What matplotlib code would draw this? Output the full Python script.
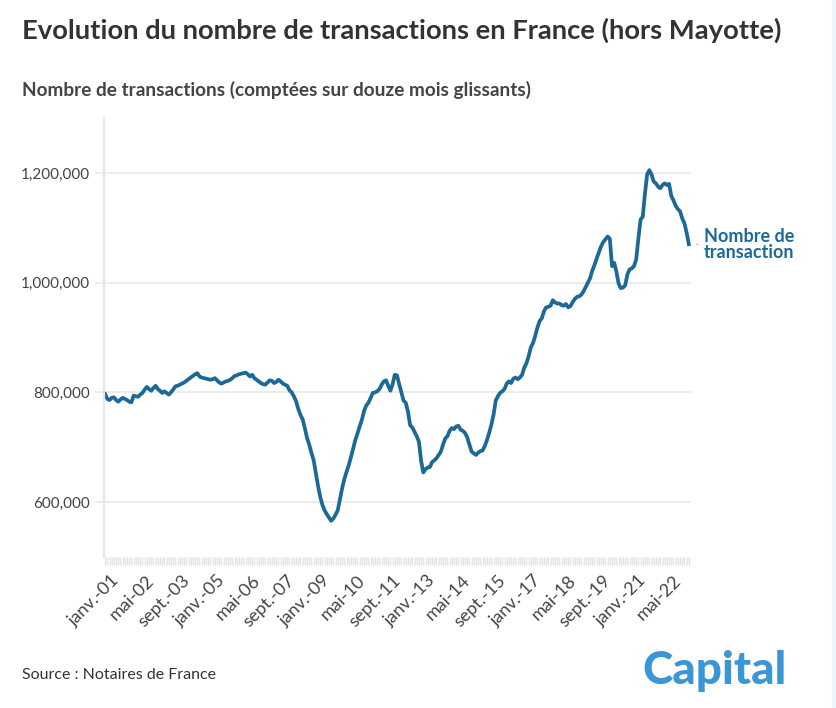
import matplotlib
matplotlib.use("Agg")
import matplotlib.pyplot as plt
from matplotlib.patches import Rectangle
from matplotlib.ticker import FuncFormatter
from matplotlib.transforms import ScaledTranslation

# 12-month rolling number of transactions (thousands), monthly, Jan 2001 -> Mar 2023
y2001 = [797, 788, 786, 790, 791, 786, 783, 787, 790, 788, 786, 783]
y2002 = [782, 794, 793, 792, 796, 799, 805, 810, 806, 803, 808, 812]
y2003 = [806, 803, 799, 802, 799, 796, 800, 805, 811, 812, 814, 816]
y2004 = [818, 821, 824, 827, 830, 833, 835, 829, 827, 826, 825, 824]
y2005 = [823, 824, 826, 822, 818, 816, 818, 820, 821, 823, 826, 830]
y2006 = [831, 833, 834, 835, 836, 833, 829, 832, 826, 823, 820, 817]
y2007 = [815, 814, 818, 822, 821, 817, 819, 823, 820, 816, 814, 812]
y2008 = [804, 800, 793, 784, 770, 759, 751, 735, 717, 705, 690, 677]
y2009 = [653, 630, 610, 595, 585, 578, 572, 566, 570, 577, 585, 605]
y2010 = [625, 642, 655, 667, 682, 697, 713, 725, 738, 750, 766, 776]
y2011 = [781, 790, 799, 800, 802, 806, 814, 820, 822, 812, 803, 815]
y2012 = [832, 831, 815, 800, 785, 781, 765, 740, 736, 728, 720, 710]
y2013 = [675, 654, 660, 663, 664, 673, 676, 680, 686, 692, 705, 716]
y2014 = [720, 730, 735, 733, 738, 739, 732, 730, 726, 718, 705, 692]
y2015 = [689, 686, 690, 693, 694, 702, 713, 726, 741, 759, 785, 793]
y2016 = [799, 802, 806, 816, 820, 817, 825, 827, 824, 827, 832, 845]
y2017 = [853, 866, 882, 890, 903, 918, 930, 935, 948, 955, 956, 958]
y2018 = [968, 964, 962, 962, 959, 958, 961, 955, 957, 964, 970, 974]
y2019 = [975, 978, 984, 992, 1000, 1008, 1022, 1032, 1044, 1055, 1066, 1074]
y2020 = [1079, 1084, 1080, 1030, 1036, 1020, 998, 990, 991, 995, 1015, 1024]
y2021 = [1026, 1030, 1042, 1080, 1115, 1120, 1162, 1197, 1205, 1197, 1184, 1181]
y2022 = [1175, 1172, 1178, 1181, 1178, 1180, 1158, 1150, 1140, 1134, 1130, 1117]
y2023 = [1108, 1091, 1070]

years = [y2001, y2002, y2003, y2004, y2005, y2006, y2007, y2008, y2009, y2010, y2011,
         y2012, y2013, y2014, y2015, y2016, y2017, y2018, y2019, y2020, y2021, y2022, y2023]
values = [v * 1000 for yr in years for v in yr]
months = list(range(len(values)))

tick_labels = ["janv.-01", "mai-02", "sept.-03", "janv.-05", "mai-06", "sept.-07",
               "janv.-09", "mai-10", "sept.-11", "janv.-13", "mai-14", "sept.-15",
               "janv.-17", "mai-18", "sept.-19", "janv.-21", "mai-22"]
tick_pos = [i * 16 for i in range(len(tick_labels))]

line_color = "#1d6996"
plt.rcParams["font.family"] = ["Lato", "DejaVu Sans"]

fig = plt.figure(figsize=(8.37, 7.08), dpi=100)
ax = fig.add_axes([0.1243, 0.2133, 0.7013, 0.62])

ax.plot(months, values, color=line_color, lw=2.7, solid_joinstyle="round")

ax.set_xlim(-0.5, 267)
ax.set_ylim(500000, 1300000)
ax.set_yticks([600000, 800000, 1000000, 1200000])
ax.yaxis.set_major_formatter(FuncFormatter(lambda v, p: f"{int(v):,}"))
ax.grid(axis="y", color="#ebebeb", lw=1.3)
ax.tick_params(axis="y", length=6.5, color="#ebebeb", width=1.3, labelsize=11,
               labelcolor="#444444", pad=3.5)

ax.set_xticks(tick_pos)
ax.set_xticklabels(tick_labels, rotation=45, ha="right", rotation_mode="anchor")
ax.set_xticks(months, minor=True)
ax.tick_params(axis="x", which="both", length=6, color="#e3e3e3", width=1,
               labelsize=13, labelcolor="#444444", pad=5)
shift = ScaledTranslation(6 / 100, 0, fig.dpi_scale_trans)
for lbl in ax.get_xticklabels():
    lbl.set_transform(lbl.get_transform() + shift)

for s in ["top", "right", "bottom"]:
    ax.spines[s].set_visible(False)
ax.spines["left"].set_color("#e6e6e6")
ax.spines["left"].set_linewidth(1.6)
ax.set_axisbelow(True)

# end label
ax.annotate("Nombre de\ntransaction", xy=(months[-1], values[-1]),
            xytext=(11, 0), textcoords="offset points", va="center", ha="left",
            fontsize=13, fontweight="bold", color=line_color, linespacing=0.9,
            annotation_clip=False)
ax.annotate("", xy=(months[-1] + 3.5, values[-1]), xytext=(months[-1] + 5.3, values[-1]),
            arrowprops=dict(arrowstyle="-", color="#aaaaaa", lw=0.8), annotation_clip=False)

fig.text(22 / 837, 1 - 30 / 708, "Evolution du nombre de transactions en France (hors Mayotte)",
         fontsize=19.7, fontweight="bold", color="#333333", va="center")
fig.text(22 / 837, 1 - 90 / 708, "Nombre de transactions (comptées sur douze mois glissants)",
         fontsize=13.7, fontweight="bold", color="#444444", va="center")
fig.text(22 / 837, 1 - 675 / 708, "Source : Notaires de France",
         fontsize=11.5, color="#333333", va="center")
fig.text(787 / 837, 1 - 671 / 708, "Capital", fontsize=33, fontweight="black",
         color="#3b96d6", ha="right", va="center")

fig.patches.append(Rectangle((832 / 837, 0), 5 / 837, 1, transform=fig.transFigure,
                             color="#eef5fb", zorder=-1))

fig.savefig("out.png", dpi=100)
